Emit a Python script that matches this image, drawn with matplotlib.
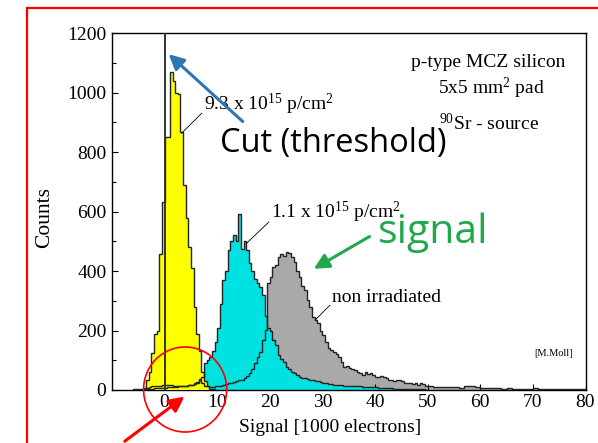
import numpy as np
import matplotlib
matplotlib.use('Agg')
import matplotlib.pyplot as plt
from matplotlib.patches import Rectangle, Ellipse

plt.rcParams['font.family'] = 'Liberation Serif'
plt.rcParams['mathtext.default'] = 'regular'

# histogram counts, 0.5k-electron bins unless noted
yellow_start = -4.0
yellow_counts = [8, 34, 62, 123, 190, 200, 459, 633, 851, 851, 1070, 1040, 1000, 995,
                 868, 690, 580, 480, 410, 280, 190, 130, 60, 30, 12, 5, 2]

cyan_start = -4.0
cyan_counts = [2, 3, 4, 5, 6, 6, 7, 8, 8, 9, 10, 10, 11, 12, 12, 13, 14, 16, 18, 22,
               28, 36, 45, 90, 100, 112, 130, 160, 210, 290, 370, 400, 470, 500, 520, 500,
               591, 474, 500, 470, 426, 400, 375, 360, 347, 319, 250, 207, 200, 168, 150, 118,
               105, 95, 78, 70, 62, 58, 50, 45, 42, 40, 36, 34, 34, 30, 30, 26, 22, 22,
               20, 20, 18, 18, 17, 16, 15, 15, 14, 13, 13, 12, 12, 11, 11, 10, 10, 9,
               9, 8, 8, 7, 7, 6, 6, 5, 5, 4, 4, 4, 3, 3, 3, 2, 2, 2, 2, 1]

gray_start = -6.0
gray_counts = [2, 3, 4, 5, 6, 8, 10, 12, 12, 14, 15, 16, 18, 18, 16, 15, 14, 13, 12, 14,
               15, 16, 17, 20, 25, 32, 22, 15, 12, 10, 10, 12, 14, 15, 18, 20, 22, 25, 28, 30,
               32, 34, 40, 48, 56, 70, 90, 110, 129, 168, 202, 360, 380, 414, 420, 448, 459, 450,
               465, 460, 448, 431, 400, 381, 350, 336, 302, 280, 246, 235, 224, 200, 185, 160,
               141, 135, 129, 120, 112, 95, 78, 80, 75, 70, 67, 60, 56, 52, 60, 55, 56, 50,
               45, 45, 48, 45, 40, 34, 34, 30, 34, 32, 30, 25, 22, 22, 20, 22, 18, 22, 20, 15]
# tail beyond 50k electrons, 1k-electron bins
gray_tail = [12, 11, 10, 11, 9, 10, 8, 12, 15, 9, 7, 6, 8, 6, 5, 6, 5, 4, 5, 4,
             6, 4, 3, 4, 3, 3, 4, 3, 2, 3]


def edges(start, n, w=0.5):
    return start + w * np.arange(n + 1)


fig = plt.figure(figsize=(5.98, 4.43), dpi=100)
ax = fig.add_axes([112/598, 53/443, 473.5/598, 356.7/443])

ye = edges(yellow_start, len(yellow_counts))
ce = edges(cyan_start, len(cyan_counts))
ge = np.concatenate([edges(gray_start, len(gray_counts))[:-1],
                     edges(gray_start + 0.5*len(gray_counts), len(gray_tail), 1.0)])
gv = np.array(gray_counts + gray_tail)

ax.stairs(gv, ge, fill=True, color='#a9a9a9', zorder=1)
ax.stairs(cyan_counts, ce, fill=True, color='#00e1e1', zorder=2)
ax.stairs(yellow_counts, ye, fill=True, color='#ffff00', zorder=3)
for v, e in [(gv, ge), (cyan_counts, ce), (yellow_counts, ye)]:
    ax.stairs(v, e, color='#222222', lw=1.0, zorder=4)

# cut line
ax.plot([0, 0], [0, 1200], color='#333333', lw=1.4, zorder=5)

ax.set_xlim(-10, 80)
ax.set_ylim(0, 1200)
ax.set_xticks(np.arange(0, 81, 10))
ax.set_yticks(np.arange(0, 1201, 200))
ax.set_yticks(np.arange(100, 1200, 200), minor=True)
ax.tick_params(direction='in', labelsize=14, length=4, width=0.8, pad=4)
ax.tick_params(which='minor', direction='in', length=3, width=0.8)
ax.tick_params(axis='x', pad=3)
for s in ax.spines.values():
    s.set_linewidth(1.0)

fig.text(45/598, 1 - 218/443, 'Counts', rotation=90, ha='center', va='center', fontsize=15.5)
fig.text(330/598, 1 - 428/443, 'Signal [1000 electrons]', ha='center', va='center', fontsize=14)

# labels on the plot
fs = 14
ax.text(7.4, 941, r'9.3 x 10$^{15}$ p/cm$^2$', fontsize=fs)
ax.plot([3.24, 7.05], [864, 931], color='k', lw=0.6, zorder=6)
ax.text(20.3, 578, r'1.1 x 10$^{15}$ p/cm$^2$', fontsize=fs)
ax.plot([15.6, 19.8], [494, 565], color='k', lw=0.6, zorder=6)
ax.text(31.9, 297, 'non irradiated', fontsize=fs)
ax.plot([28.6, 31.4], [235, 285], color='k', lw=0.6, zorder=6)
ax.text(46.9, 1087, 'p-type MCZ silicon', fontsize=fs)
ax.text(52.0, 997, r'5x5 mm$^2$ pad', fontsize=fs)
ax.text(52.2, 874, r'$^{90}$Sr - source', fontsize=fs)
ax.text(70.3, 114, '[M.Moll]', fontsize=7.5)

ax.text(10.5, 830, 'Cut (threshold)', family='Open Sans', fontsize=23.5, va='center')
ax.text(40.6, 494, 'signal', family='Open Sans', fontsize=29.5, color='#21a84c')

# arrows and circle
ax.annotate('', xy=(0.38, 1136), xytext=(15.24, 897), annotation_clip=False,
            arrowprops=dict(arrowstyle='-|>,head_length=0.9,head_width=0.45', color='#2e75b6', lw=2.2), zorder=7)
ax.annotate('', xy=(27.9, 403), xytext=(39.4, 521), annotation_clip=False,
            arrowprops=dict(arrowstyle='-|>,head_length=0.9,head_width=0.45', color='#21a84c', lw=2.2), zorder=7)
ax.annotate('', xy=(4.19, -16.8), xytext=(-8.0, -178), annotation_clip=False,
            arrowprops=dict(arrowstyle='-|>,head_length=0.9,head_width=0.45', color='#ff0000', lw=2.2), zorder=7)
ax.add_patch(Ellipse((3.9, 1.7), 15.8, 286, fill=False, ec='#ff0000', lw=1.2, clip_on=False, zorder=7))

fig.add_artist(Rectangle((27/598, -0.1), 2, (443 - 7.7)/443 + 0.1, transform=fig.transFigure,
                         fill=False, ec='#ff0000', lw=1.6))

fig.savefig('out.png', dpi=100)
